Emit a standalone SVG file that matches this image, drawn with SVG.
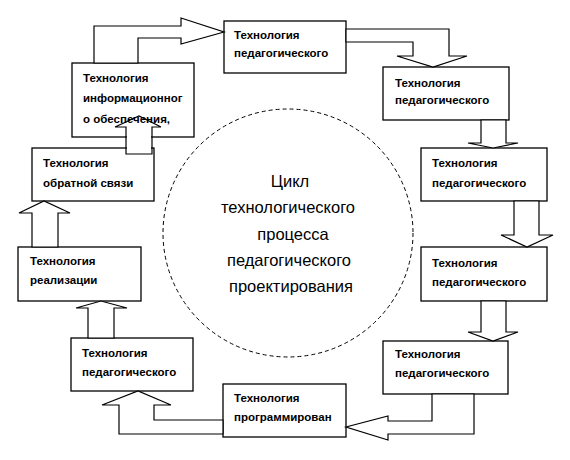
<svg xmlns="http://www.w3.org/2000/svg" width="570" height="460" viewBox="0 0 570 460">
<style>
.box{fill:#fff;stroke:#000;stroke-width:1.3}
.t{font-family:"Liberation Sans",Arial,sans-serif;font-size:11.5px;font-weight:bold;fill:#000}
.c{font-family:"Liberation Sans",Arial,sans-serif;font-size:16.5px;fill:#000;text-anchor:middle}
.arr{fill:#fff;stroke:#000;stroke-width:1.2;stroke-linejoin:miter}
</style>
<rect width="570" height="460" fill="#fff"/>
<g id="cycle">
<ellipse cx="288" cy="233" rx="125" ry="124" fill="none" stroke="#000" stroke-width="1" stroke-dasharray="4 3"/>
<text class="c" x="290" y="187">Цикл</text>
<text class="c" x="288" y="213">технологического</text>
<text class="c" x="293" y="240">процесса</text>
<text class="c" x="289" y="266">педагогического</text>
<text class="c" x="291" y="292">проектирования</text>
</g>
<g id="n1"><rect class="box" x="224" y="21" width="122" height="52"/><text class="t" x="234" y="39">Технология</text><text class="t" x="234" y="57">педагогического</text></g>
<g id="n2"><rect class="box" x="383" y="67" width="126" height="53"/><text class="t" x="395" y="87">Технология</text><text class="t" x="395" y="104">педагогического</text></g>
<g id="n3"><rect class="box" x="421" y="148" width="126" height="53"/><text class="t" x="432" y="167">Технология</text><text class="t" x="432" y="187">педагогического</text></g>
<g id="n4"><rect class="box" x="421" y="247" width="126" height="54"/><text class="t" x="432" y="267">Технология</text><text class="t" x="432" y="286">педагогического</text></g>
<g id="n5"><rect class="box" x="383" y="341" width="125" height="53"/><text class="t" x="395" y="358">Технология</text><text class="t" x="395" y="377">педагогического</text></g>
<g id="n6"><rect class="box" x="223" y="384" width="123" height="53"/><text class="t" x="234" y="402">Технология</text><text class="t" x="234" y="421">программирован</text></g>
<g id="n7"><rect class="box" x="71" y="338" width="122" height="53"/><text class="t" x="82" y="357">Технология</text><text class="t" x="82" y="376">педагогического</text></g>
<g id="n8"><rect class="box" x="18" y="247" width="123" height="54"/><text class="t" x="30" y="265">Технология</text><text class="t" x="30" y="284">реализации</text></g>
<g id="n9"><rect class="box" x="32" y="148" width="122" height="53"/><text class="t" x="43" y="167">Технология</text><text class="t" x="43" y="187">обратной связи</text></g>
<g id="n10"><rect class="box" x="72" y="63" width="122" height="74"/><text class="t" x="83" y="82">Технология</text><text class="t" x="83" y="102">информационног</text><text class="t" x="83" y="123">о обеспечения,</text></g>
<g id="connectors">
<polygon class="arr" points="94,63 94,26 181,26 181,18 224,32 181,44 181,38 138,38 138,63"/>
<polygon class="arr" points="346,29 449,29 449,56 467,56 433,67 397,56 413,56 413,42 346,42"/>
<polygon class="arr" points="481,120 481,143 468,143 493,148 518,143 506,143 506,120"/>
<polygon class="arr" points="514,201 514,235 501,235 527,247 553,235 539,235 539,201"/>
<polygon class="arr" points="481,301 481,332 468,332 493,341 518,332 506,332 506,301"/>
<polygon class="arr" points="432,394 432,421 388,421 388,416 346,427 388,440 388,434 474,434 474,394"/>
<polygon class="arr" points="223,420 154,420 154,405 171,405 138,391 102,405 119,405 119,434 223,434"/>
<polygon class="arr" points="88,338 88,308 76,308 101,301 127,308 114,308 114,338"/>
<polygon class="arr" points="32,247 32,213 19,213 44,201 70,213 58,213 58,247"/>
<rect x="127" y="135" width="24" height="18.5" fill="#fff" stroke="none"/>
<polygon points="126,154 126,127 115,127 139,116 161,127 152,127 152,154" fill="none" stroke="#000" stroke-width="1.2"/>
</g>
</svg>
